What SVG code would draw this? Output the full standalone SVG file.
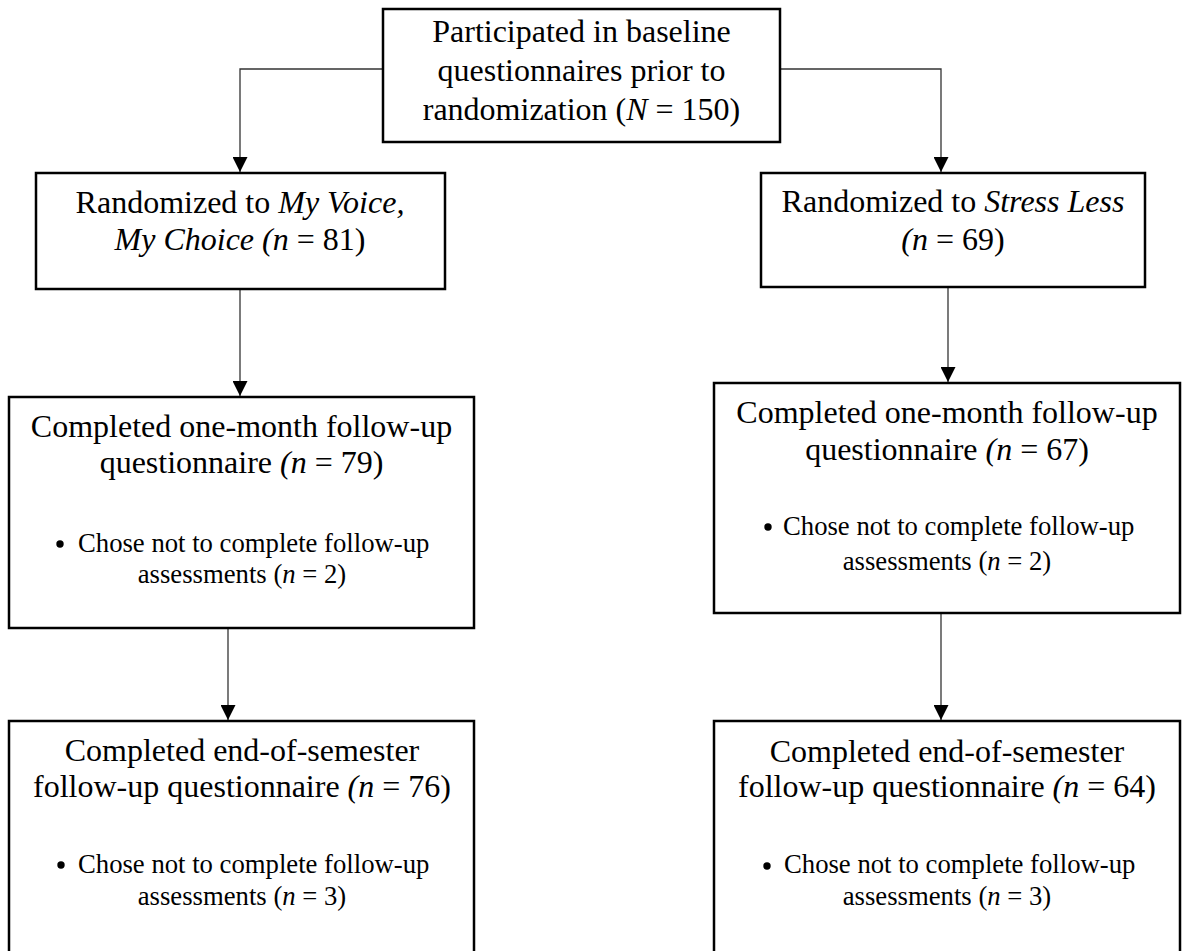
<svg xmlns="http://www.w3.org/2000/svg" width="1183" height="951" viewBox="0 0 1183 951">
<style>
.box{fill:#fff;stroke:#000;stroke-width:2.5}
.t{font-family:"Liberation Serif","Times New Roman",serif;font-size:32px;fill:#000}
.s{font-family:"Liberation Serif","Times New Roman",serif;font-size:26.7px;fill:#000}
.c{text-anchor:middle}
.i{font-style:italic}
.con{fill:none;stroke:#333;stroke-width:1.3}
.dot{fill:#000}
</style>
<defs>
<marker id="ah" markerUnits="userSpaceOnUse" markerWidth="15" markerHeight="15" refX="15" refY="7.5" orient="auto" viewBox="0 0 15 15">
<path d="M0,0 L15,7.5 L0,15 z" fill="#000"/>
</marker>
</defs>
<rect width="1183" height="951" fill="#fff"/>
<g id="connectors">
<path class="con" d="M383,69 H240 V172" marker-end="url(#ah)"/>
<path class="con" d="M780,69 H941 V172" marker-end="url(#ah)"/>
<path class="con" d="M240,289 V396" marker-end="url(#ah)"/>
<path class="con" d="M948,287 V382" marker-end="url(#ah)"/>
<path class="con" d="M228,628 V720" marker-end="url(#ah)"/>
<path class="con" d="M941,613 V720" marker-end="url(#ah)"/>
</g>
<g id="baseline">
<rect class="box" x="383" y="9" width="397" height="133"/>
<text class="t c" x="581.5" y="42">Participated in baseline</text>
<text class="t c" x="581.5" y="81">questionnaires prior to</text>
<text class="t c" x="581.5" y="120">randomization (<tspan class="i">N</tspan> = 150)</text>
</g>
<g id="rand-mvmc">
<rect class="box" x="36" y="173" width="409" height="116"/>
<text class="t c" x="240" y="213">Randomized to <tspan class="i">My Voice,</tspan></text>
<text class="t c" x="240" y="250"><tspan class="i">My Choice (n</tspan> = 81)</text>
</g>
<g id="rand-sl">
<rect class="box" x="761" y="173" width="384" height="114"/>
<text class="t c" x="953" y="212">Randomized to <tspan class="i">Stress Less</tspan></text>
<text class="t c" x="953" y="250"><tspan class="i">(n</tspan> = 69)</text>
</g>
<g id="month-mvmc">
<rect class="box" x="9" y="397" width="465" height="231"/>
<text class="t c" x="241.5" y="437">Completed one-month follow-up</text>
<text class="t c" x="241.5" y="473">questionnaire <tspan class="i">(n</tspan> = 79)</text>
<circle class="dot" cx="60" cy="544" r="3.7"/>
<text class="s" x="78" y="552">Chose not to complete follow-up</text>
<text class="s c" x="242" y="583">assessments (<tspan class="i">n</tspan> = 2)</text>
</g>
<g id="month-sl">
<rect class="box" x="714" y="383" width="466" height="230"/>
<text class="t c" x="947" y="423">Completed one-month follow-up</text>
<text class="t c" x="947" y="460">questionnaire <tspan class="i">(n</tspan> = 67)</text>
<circle class="dot" cx="768" cy="527" r="3.7"/>
<text class="s" x="783" y="535">Chose not to complete follow-up</text>
<text class="s c" x="947" y="570">assessments (<tspan class="i">n</tspan> = 2)</text>
</g>
<g id="sem-mvmc">
<rect class="box" x="9" y="721" width="465" height="250"/>
<text class="t c" x="242" y="761">Completed end-of-semester</text>
<text class="t c" x="242" y="797">follow-up questionnaire <tspan class="i">(n</tspan> = 76)</text>
<circle class="dot" cx="61" cy="865" r="3.7"/>
<text class="s" x="78" y="873">Chose not to complete follow-up</text>
<text class="s c" x="242" y="905">assessments (<tspan class="i">n</tspan> = 3)</text>
</g>
<g id="sem-sl">
<rect class="box" x="714" y="721" width="466" height="250"/>
<text class="t c" x="947" y="762">Completed end-of-semester</text>
<text class="t c" x="947" y="797">follow-up questionnaire <tspan class="i">(n</tspan> = 64)</text>
<circle class="dot" cx="767" cy="866" r="3.7"/>
<text class="s" x="784" y="873">Chose not to complete follow-up</text>
<text class="s c" x="947" y="905">assessments (<tspan class="i">n</tspan> = 3)</text>
</g>
</svg>
